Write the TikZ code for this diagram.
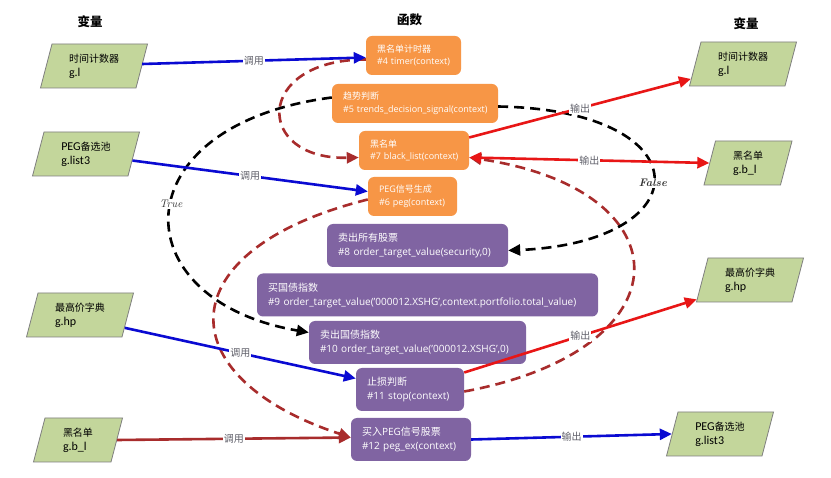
\documentclass[tikz,border=0pt]{standalone}
\usepackage{fontspec}
\setmainfont{Open Sans}
\newfontfamily\cjkfam{Noto Sans CJK SC}
\newfontfamily\calfam{Carlito}
\newfontfamily\lmfam{Latin Modern Roman}
\usetikzlibrary{shapes.geometric,arrows.meta}

\definecolor{varfill}{RGB}{195,214,155}
\definecolor{varline}{RGB}{127,127,127}
\definecolor{fnorange}{RGB}{247,150,70}
\definecolor{fnpurple}{RGB}{128,100,162}
\definecolor{callblue}{RGB}{10,10,210}
\definecolor{outred}{RGB}{232,22,22}
\definecolor{loopred}{RGB}{168,44,44}
\definecolor{lblgray}{RGB}{95,95,105}

% Chinese text inside the variable boxes
\newcommand\varzh[1]{{\cjkfam\fontsize{10}{14}\selectfont #1}}

\tikzset{
  >={Triangle[length=12pt,width=11pt]},
  varbox/.style={trapezium, trapezium left angle=68, trapezium right angle=112,
    trapezium stretches body=true, draw=varline, line width=0.8pt, fill=varfill,
    minimum width=107pt, minimum height=44pt, align=left, inner sep=2pt,
    font=\calfam\fontsize{12}{14}\selectfont},
  orangebox/.style={rectangle, rounded corners=6pt, fill=fnorange, text=white,
    align=left, inner xsep=11pt, inner ysep=2pt, minimum height=39pt,
    font=\fontsize{9}{12.5}\selectfont, text width=#1},
  purplebox/.style={rectangle, rounded corners=6pt, fill=fnpurple, text=white,
    align=left, inner xsep=11pt, inner ysep=2pt, minimum height=43pt,
    font=\fontsize{10}{14}\selectfont, text width=#1},
  header/.style={font=\cjkfam\bfseries\fontsize{12.5}{14}\selectfont},
  flowline/.style={line width=2.6pt, ->},
  calllink/.style={flowline, callblue},
  outlink/.style={flowline, outred},
  looplink/.style={flowline, loopred, dash pattern=on 10pt off 6pt},
  loopsolid/.style={flowline, loopred},
  condlink/.style={flowline, black, dash pattern=on 10pt off 6pt},
  edgelbl/.style={fill=white, inner sep=1pt, text=lblgray,
    font=\cjkfam\fontsize{10}{11}\selectfont},
  condlbl/.style={fill=white, inner sep=1pt, text=black!80,
    font=\lmfam\itshape\fontsize{11}{12}\selectfont}
}

\begin{document}
\begin{tikzpicture}[x=1pt, y=-1pt]
\fill[white] (0,0) rectangle (831,478);
\useasboundingbox (0,0) rectangle (831,478);

% column headers
\node[header] (hvin)  at (90,22)    {变量};
\node[header] (hfun)  at (409.5,20) {函数};
\node[header] (hvout) at (746,24)   {变量};

% input variables
\node[varbox] (l1) at (94,66)  {\varzh{时间计数器}\\g.l};
\node[varbox] (l2) at (86,154) {PEG\varzh{备选池}\\g.list3};
\node[varbox] (l3) at (80,315) {\varzh{最高价字典}\\g.hp};
\node[varbox, minimum width=89pt] (l4) at (78,440) {\varzh{黑名单}\\g.b\_l};

% output variables
\node[varbox] (r1) at (743,64)  {\varzh{时间计数器}\\g.l};
\node[varbox, minimum width=88pt] (r2) at (748,163) {\varzh{黑名单}\\g.b\_l};
\node[varbox] (r3) at (750,280) {\varzh{最高价字典}\\g.hp};
\node[varbox] (r4) at (720,434) {PEG\varzh{备选池}\\g.list3};

% functions
\node[orangebox=73pt]  (f4) at (413.5,55.5)  {{\cjkfam 黑名单计时器}\\\mbox{\#4 timer(context)}};
\node[orangebox=144pt] (f5) at (415,103.5)   {{\cjkfam 趋势判断}\\\mbox{\#5 trends\_decision\_signal(context)}};
\node[orangebox=88pt]  (f7) at (414,150.5)   {{\cjkfam 黑名单}\\\mbox{\#7 black\_list(context)}};
\node[orangebox=67pt]  (f6) at (412.5,196.5) {PEG{\cjkfam 信号生成}\\\mbox{\#6 peg(context)}};
\node[purplebox=159pt] (f8) at (417.5,245.5) {{\cjkfam 卖出所有股票}\\\mbox{\#8 order\_target\_value(security,0)}};
\node[purplebox=319pt] (f9) at (427.5,295)   {{\cjkfam 买国债指数}\\\mbox{\#9 order\_target\_value('000012.XSHG',context.portfolio.total\_value)}};
\node[purplebox=195pt] (f10) at (417.5,342.5) {{\cjkfam 卖出国债指数}\\\mbox{\#10 order\_target\_value('000012.XSHG',0)}};
\node[purplebox=86pt]  (f11) at (410,389.5)  {{\cjkfam 止损判断}\\\mbox{\#11 stop(context)}};
\node[purplebox=98pt]  (f12) at (411,439.5)  {{\cjkfam 买入}PEG{\cjkfam 信号股票}\\\mbox{\#12 peg\_ex(context)}};

% call order loops
\draw[looplink] ([yshift=-4pt]f4.west) .. controls +(-112,0) and +(-105,2.5) .. ([yshift=-7pt]f7.west);
\draw[looplink] ([yshift=-3pt]f6.west) .. controls +(-201,50) and +(-184,-60.5) .. ([yshift=2pt]f12.west);
\draw[looplink] ([yshift=-2pt]f11.east) .. controls +(224,-41.5) and +(219,32.5) .. ([yshift=-7pt]f7.east);

% trend decision branches
\draw[condlink] ([yshift=6pt]f5.west) .. controls +(-212,27.5) and +(-189,-32.5) .. ([yshift=10pt]f10.west)
  node[condlbl, pos=0.47] {True};
\draw[condlink] ([yshift=-3pt]f5.east) .. controls +(205,3.5) and +(195,-8.5) .. ([yshift=-5pt]f8.east)
  node[condlbl, pos=0.53, font=\lmfam\bfseries\itshape\fontsize{11}{12}\selectfont] {False};

% inputs
\draw[calllink] ([yshift=2pt]l1.east) -- ([yshift=-2pt]f4.west) node[edgelbl, midway] {调用};
\draw[calllink] (l2.-8) -- ([yshift=5pt]f6.west) node[edgelbl, midway] {调用};
\draw[calllink] (l3.-16) -- ([yshift=11pt]f11.west) node[edgelbl, midway] {调用};
\draw[loopsolid] (l4.east) -- ([yshift=2pt]f12.west) node[edgelbl, midway] {调用};

% outputs
\draw[outlink] ([yshift=13pt]f7.east) -- (r1.196) node[edgelbl, midway] {输出};
\draw[outlink, <->] ([yshift=-7pt]f7.east) -- (r2.west) node[edgelbl, midway] {输出};
\draw[outlink] ([yshift=17pt]f11.east) -- (r3.200) node[edgelbl, midway] {输出};
\draw[calllink] (f12.east) -- (r4.west) node[edgelbl, midway] {输出};
\end{tikzpicture}
\end{document}
